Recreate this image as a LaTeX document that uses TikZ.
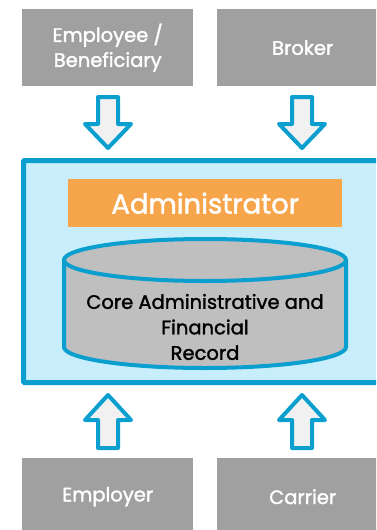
\documentclass[tikz,border=0pt]{standalone}
\usepackage{fontspec}
\setmainfont{Poppins}[FakeBold=1.6]
\definecolor{boxgray}{HTML}{A0A0A0}
\definecolor{frameblue}{HTML}{0B9FCF}
\definecolor{lightblue}{HTML}{C9EEFB}
\definecolor{adminorange}{HTML}{F7A54B}
\definecolor{cylgray}{HTML}{BFBFBF}
\definecolor{arrowfill}{HTML}{F1F1F1}
\begin{document}
\begin{tikzpicture}[x=1pt,y=-1pt,
  party/.style={fill=boxgray,minimum width=171pt,minimum height=77pt,inner sep=0pt,
    text=white,font=\fontsize{19.5}{25}\selectfont,align=center,anchor=north west},
  blockarrow/.style={draw=frameblue,line width=4pt,fill=arrowfill,line join=round},
  coretext/.style={font=\fontsize{19.5}{25.5}\selectfont,align=center,text=black}]
\useasboundingbox (0,0) rectangle (376,530);
\begin{scope}
\clip (0,0) rectangle (376,530);
% party boxes
\node[party] (emp) at (22,9) {Employee /\\Beneficiary};
\node[party] (brk) at (217,9) {Broker};
\node[party] (empl) at (22,458) {Employer};
\node[party] (car) at (217,458) {Carrier};
% main frame
\draw[frameblue,line width=5pt,fill=lightblue,rounded corners=1pt] (23.5,160.5) rectangle (395,382.5);
% administrator bar
\node[fill=adminorange,minimum width=274pt,minimum height=48pt,inner sep=0pt,text=white,
  font=\fontsize{27.5}{30}\selectfont,anchor=north west] (adm) at (68,179) {Administrator};
% cylinder
\draw[frameblue,line width=4pt,fill=cylgray] (64,260) -- (64,347) arc[start angle=180,end angle=360,x radius=141,y radius=-21] -- (346,260);
\draw[frameblue,line width=4pt,fill=cylgray] (205,260) ellipse[x radius=141,y radius=21];
\node[coretext] (core) at (205,327) {Core Administrative and\\Financial\\Record};
% arrows down
\foreach \cx/\nm in {108/a1,302/a2}{
  \draw[blockarrow] (\cx-10,97) -- (\cx+10,97) -- (\cx+10,124) -- (\cx+23,124) -- (\cx,148) -- (\cx-23,124) -- (\cx-10,124) -- cycle;
}
% arrows up
\foreach \cx/\nm in {108/a3,302/a4}{
  \draw[blockarrow] (\cx-10,448) -- (\cx+10,448) -- (\cx+10,420) -- (\cx+23,420) -- (\cx,395) -- (\cx-23,420) -- (\cx-10,420) -- cycle;
}
\end{scope}
\end{tikzpicture}
\end{document}
